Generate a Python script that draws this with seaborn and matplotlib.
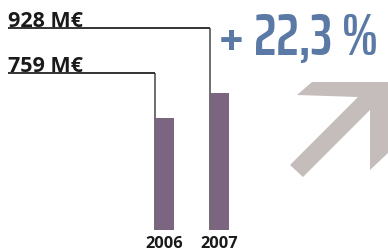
import matplotlib
matplotlib.use("Agg")
import matplotlib.pyplot as plt
import seaborn as sns
import pandas as pd
from matplotlib.patches import Polygon

# datos
years = ["2006", "2007"]
values = [759, 928]
value_labels = ["759 M€", "928 M€"]
label_heights = [1064, 1369]  # altura de la linea guia de cada etiqueta

df = pd.DataFrame({"year": years, "value": values})
growth = (values[1] - values[0]) / values[0] * 100
growth_label = "+ " + f"{growth:.1f}".replace(".", ",") + " %"

W, H = 388, 252
fig = plt.figure(figsize=(W / 100, H / 100), dpi=100)
ax = fig.add_axes([0, 22 / H, 1, 230 / H])

bar_w = 0.345
sns.barplot(data=df, x="year", y="value", color="#7b6580", width=bar_w,
            saturation=1, ax=ax)
ax.set_xlim(-164.5 / 55, (W - 164.5) / 55)
ax.set_ylim(0, 230 * 6.775)
ax.axis("off")

x_text = (8 - 164.5) / 55
for i, (lab, h) in enumerate(zip(value_labels, label_heights)):
    x_edge = i - bar_w / 2
    ax.plot([x_edge, x_edge], [0, h], color="#6e6e6e", lw=1.4, solid_capstyle="butt")
    ax.plot([x_text, x_edge], [h, h], color="#333333", lw=1.4, solid_capstyle="butt")
    ax.text(x_text, h + 8, lab, ha="left", va="baseline", fontsize=15.5,
            fontweight="bold", family="Open Sans", color="#1a1a1a")
    ax.text(i, -42, years[i], ha="center", va="top", fontsize=11.8,
            fontweight="bold", family="Open Sans", color="#1a1a1a")

# titulo del crecimiento
fig.text(298 / W, 1 - 55 / H, growth_label, ha="center", va="baseline",
         fontsize=43, fontweight="semibold", color="#5a7aa5",
         family="Saira ExtraCondensed")

# flecha decorativa
pts = [(297, 95), (312, 82), (388, 82), (388, 153), (370, 170), (370, 110),
       (303, 177), (290, 165), (358, 97)]
arrow = Polygon([(x / W, 1 - y / H) for x, y in pts], closed=True,
                facecolor="#c5bdbc", edgecolor="none", transform=fig.transFigure)
fig.patches.append(arrow)

fig.savefig("out.png", dpi=100)
